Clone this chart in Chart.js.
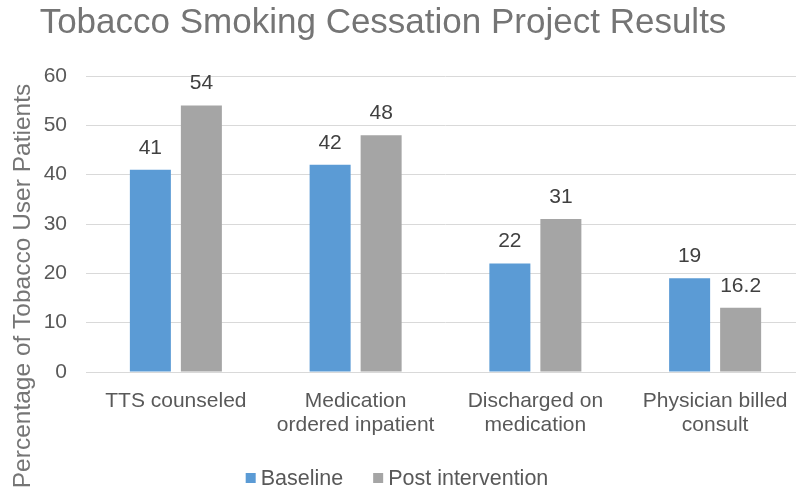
<!DOCTYPE html>
<html>
<head>
<meta charset="utf-8">
<script src="https://cdn.jsdelivr.net/npm/chart.js@4.4.1/dist/chart.umd.min.js"></script>
<style>
  html, body { margin: 0; padding: 0; background: #ffffff; overflow: hidden; width: 796px; height: 492px; }
  #wrap { position: absolute; left: 0; top: 0; width: 806px; height: 492px; }
</style>
</head>
<body>
<div id="wrap"><canvas id="c" width="806" height="492"></canvas></div>
<script>
// ---- Data ----
const chartTitle = "Tobacco Smoking Cessation Project Results";
const yAxisTitle = "Percentage of Tobacco User Patients";
const categories = [
  ["TTS counseled"],
  ["Medication", "ordered inpatient"],
  ["Discharged on", "medication"],
  ["Physician billed", "consult"]
];
const seriesNames = ["Baseline", "Post intervention"];
const baselineValues = [41, 42, 22, 19];
const postValues = [54, 48, 31, 13];
const baselineLabels = ["41", "42", "22", "19"];
const postLabels = ["54", "48", "31", "16.2"];
const yTicks = [0, 10, 20, 30, 40, 50, 60];

const FONT = "'Liberation Sans', Arial, Helvetica, sans-serif";
const colors = ["#5B9BD5", "#A5A5A5"];
const valueLabels = [baselineLabels, postLabels];

const overlayPlugin = {
  id: 'overlay',
  afterDatasetsDraw(chart) {
    const ctx = chart.ctx;
    ctx.save();
    ctx.font = "21px " + FONT;
    ctx.fillStyle = "#404040";
    ctx.textAlign = "center";
    ctx.textBaseline = "middle";
    chart.data.datasets.forEach((ds, di) => {
      const meta = chart.getDatasetMeta(di);
      meta.data.forEach((bar, i) => {
        ctx.fillText(valueLabels[di][i], bar.x, bar.y - 22);
      });
    });
    ctx.restore();
  },
  afterDraw(chart) {
    const ctx = chart.ctx;
    ctx.save();
    // title
    ctx.font = "35px " + FONT;
    ctx.fillStyle = "#757575";
    ctx.textAlign = "center";
    ctx.textBaseline = "middle";
    ctx.fillText(chartTitle, 383, 23);
    // y axis title
    ctx.save();
    ctx.translate(23, 286);
    ctx.rotate(-Math.PI / 2);
    ctx.font = "24.5px " + FONT;
    ctx.fillStyle = "#757575";
    ctx.textAlign = "center";
    ctx.textBaseline = "middle";
    ctx.fillText(yAxisTitle, 0, 0);
    ctx.restore();
    // legend
    ctx.font = "21.5px " + FONT;
    ctx.textBaseline = "middle";
    ctx.textAlign = "left";
    const box = 10, gapBox = 5, gapItem = 30;
    const widths = chart.data.datasets.map(ds => box + gapBox + ctx.measureText(ds.label).width);
    const total = widths.reduce((a, b) => a + b, 0) + gapItem * (widths.length - 1);
    let x = 397 - total / 2;
    const y = 478;
    chart.data.datasets.forEach((ds, di) => {
      ctx.fillStyle = ds.backgroundColor;
      ctx.fillRect(x, y - box / 2, box, box);
      ctx.fillStyle = "#595959";
      ctx.fillText(ds.label, x + box + gapBox, y + 1);
      x += widths[di] + gapItem;
    });
    ctx.restore();
  }
};

new Chart(document.getElementById('c'), {
  type: 'bar',
  data: {
    labels: categories,
    datasets: [
      { label: seriesNames[0], data: baselineValues, backgroundColor: colors[0],
        barPercentage: 0.804, categoryPercentage: 0.5675 },
      { label: seriesNames[1], data: postValues, backgroundColor: colors[1],
        barPercentage: 0.804, categoryPercentage: 0.5675 }
    ]
  },
  options: {
    responsive: false,
    animation: false,
    devicePixelRatio: 1,
    layout: { padding: { top: 76, left: 0, right: 1, bottom: 0 } },
    plugins: {
      legend: { display: false },
      title: { display: false },
      tooltip: { enabled: false }
    },
    scales: {
      x: {
        grid: { display: false, drawTicks: false },
        border: { display: true, color: "#d9d9d9" },
        ticks: {
          color: "#595959",
          font: { family: FONT, size: 21, lineHeight: 1.14 },
          padding: 17,
          maxRotation: 0,
          autoSkip: false
        },
        afterFit(scale) { scale.height = 120; }
      },
      y: {
        min: 0, max: 60,
        grid: { color: "#d9d9d9", drawTicks: false },
        border: { display: false },
        afterBuildTicks(scale) { scale.ticks = yTicks.map(v => ({ value: v })); },
        ticks: {
          color: "#595959",
          font: { family: FONT, size: 21 },
          padding: 19,
          stepSize: 10
        },
        afterFit(scale) { scale.width = 86; }
      }
    }
  },
  plugins: [overlayPlugin]
});
</script>
</body>
</html>
